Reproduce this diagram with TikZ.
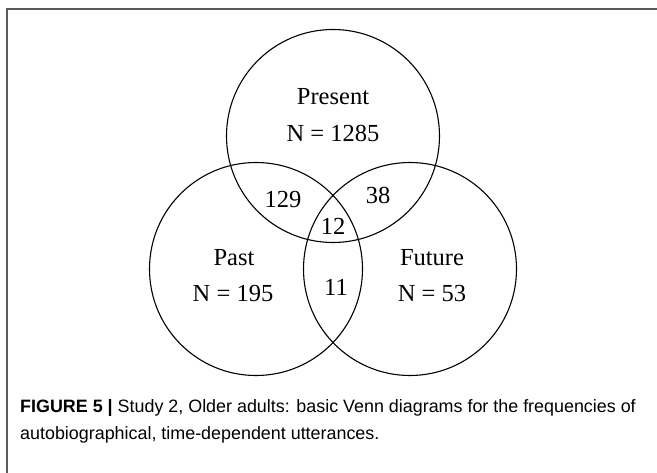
\documentclass[tikz,border=0pt]{standalone}
\usepackage{fontspec}
\setmainfont{Liberation Serif}
\setsansfont{Liberation Sans}
\usetikzlibrary{positioning}

\begin{document}
\begin{tikzpicture}[
  x=1pt, y=-1pt,
  set/.style={draw, circle, line width=1.1pt, minimum size=213pt, inner sep=0pt},
  count/.style={font=\fontsize{24.5}{28}\selectfont, inner sep=0pt},
  caption/.style={font=\sffamily\fontsize{17.9}{24}\selectfont, anchor=base west, inner sep=0pt}
]
\useasboundingbox (0,0) rectangle (657,473);

% frame round the figure
\draw[black!65, line width=1.6pt] (7,9) rectangle (690,510);

% the three sets
\node[set] (present) at (333,136) {};
\node[set] (past)    at (256,269) {};
\node[set] (future)  at (410,269) {};

% counts
\node[count] (presentname) at (333,97)  {Present};
\node[count] (presentn)    at (333,133) {N = 1285};
\node[count] (pastname)    at (234,258) {Past};
\node[count] (pastn)       at (233,294) {N = 195};
\node[count] (futurename)  at (432,258) {Future};
\node[count] (futuren)     at (432,294) {N = 53};
\node[count] (prespast)    at (283,200) {129};
\node[count] (presfut)     at (378,195) {38};
\node[count] (all)         at (333,226) {12};
\node[count] (pastfut)     at (336,287) {11};

% caption
\node[caption] (cap1) at (20,413) {\textbf{FIGURE 5 |} Study 2, Older adults: basic Venn diagrams for the frequencies of};
\node[caption] (cap2) at (20,439) {autobiographical, time-dependent utterances.};

\end{tikzpicture}
\end{document}
